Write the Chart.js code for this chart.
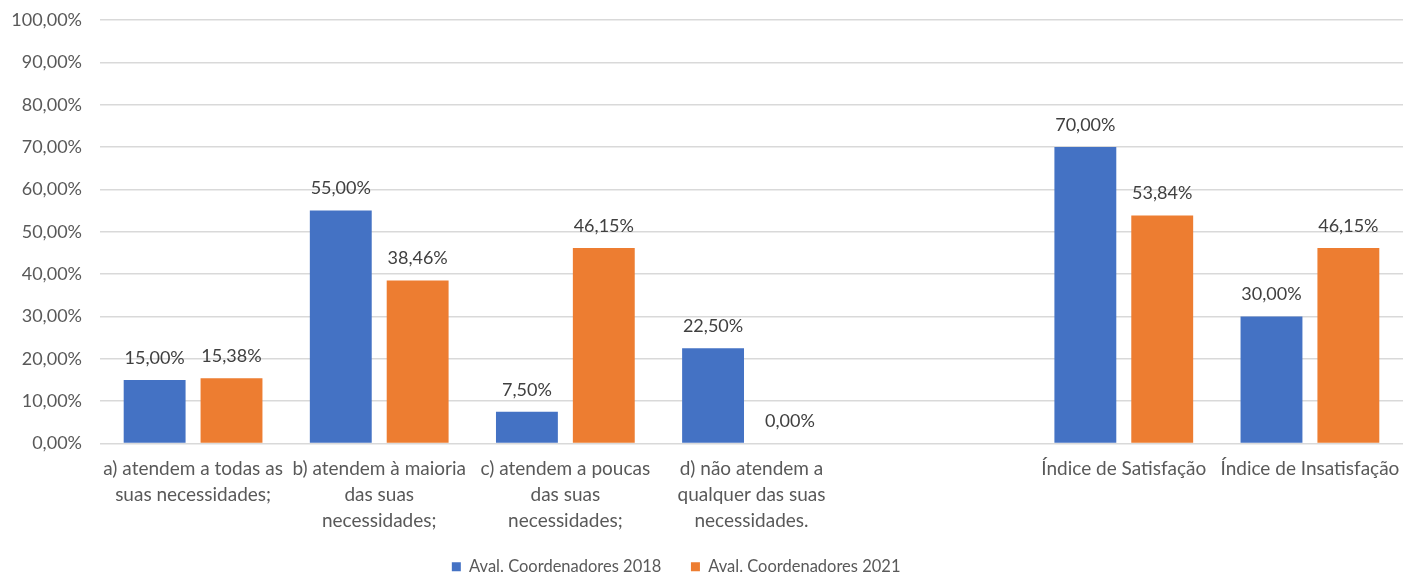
<!DOCTYPE html>
<html>
<head>
<meta charset="utf-8">
<script src="https://cdn.jsdelivr.net/npm/chart.js@4"></script>
<style>
  html, body { margin: 0; padding: 0; background: #fff; }
  #wrap { width: 1403px; height: 575px; position: relative; }
</style>
</head>
<body>
<div id="wrap"><canvas id="coordChart"></canvas></div>
<script>
// categories (empty slot between d) and the indices)
const categories = [
    ["a) atendem a todas as", "suas necessidades;"],
    ["b) atendem à maioria", "das suas", "necessidades;"],
    ["c) atendem a poucas", "das suas", "necessidades;"],
    ["d) não atendem a", "qualquer das suas", "necessidades."],
    "",
    "Índice de Satisfação",
    "Índice de Insatisfação"
];
const values2018 = [15.00, 55.00, 7.50, 22.50, null, 70.00, 30.00];
const values2021 = [15.38, 38.46, 46.15, 0.00, null, 53.84, 46.15];
const seriesNames = ["Aval. Coordenadores 2018", "Aval. Coordenadores 2021"];

const FONT = "Lato, 'Open Sans', sans-serif";

function pct(v) {
    return v.toFixed(2).replace('.', ',') + '%';
}

// draws the value above each bar
const valueLabels = {
    id: 'valueLabels',
    afterDatasetsDraw(chart) {
        const ctx = chart.ctx;
        ctx.save();
        ctx.font = "18px " + FONT;
        ctx.fillStyle = "#404040";
        ctx.textAlign = "center";
        ctx.textBaseline = "middle";
        chart.data.datasets.forEach((ds, i) => {
            const meta = chart.getDatasetMeta(i);
            meta.data.forEach((bar, j) => {
                const v = ds.data[j];
                if (v === null || v === undefined) return;
                ctx.fillText(pct(v), bar.x, bar.y - 22);
            });
        });
        ctx.restore();
    }
};

const ctx = document.getElementById("coordChart").getContext('2d');
new Chart(ctx, {
    type: "bar",
    data: {
        labels: categories,
        datasets: [
            {
                label: seriesNames[0],
                data: values2018,
                backgroundColor: "#4472c4",
                barPercentage: 0.805,
                categoryPercentage: 0.826,
            },
            {
                label: seriesNames[1],
                data: values2021,
                backgroundColor: "#ed7d31",
                barPercentage: 0.805,
                categoryPercentage: 0.826,
            },
        ],
    },
    options: {
        responsive: true,
        maintainAspectRatio: false,
        animation: false,
        layout: {
            padding: { top: 20, right: 0, left: 0, bottom: -10 },
        },
        plugins: {
            legend: {
                position: "bottom",
                labels: {
                    boxWidth: 9,
                    boxHeight: 9,
                    padding: 0,
                    color: "#595959",
                    font: { size: 16.5, family: FONT },
                    generateLabels(chart) {
                        const items = Chart.defaults.plugins.legend.labels.generateLabels(chart);
                        // spacing between items, and a small shift to the left
                        items[0].text += " ".repeat(7);
                        items[1].text += " ".repeat(12);
                        return items;
                    },
                },
            },
            tooltip: { enabled: false },
        },
        scales: {
            x: {
                afterFit(scale) {
                    scale.height = 115;
                    scale.paddingLeft = 0;
                    scale.paddingRight = 0;
                },
                grid: { display: false },
                border: { display: false },
                ticks: {
                    color: "#595959",
                    font: { size: 19, family: FONT, lineHeight: 1.35 },
                    maxRotation: 0,
                    autoSkip: false,
                    padding: 5,
                },
            },
            y: {
                min: 0,
                max: 100,
                afterFit(scale) {
                    scale.width = 100;
                    scale.paddingTop = 0;
                },
                grid: { color: "#d9d9d9", lineWidth: 1.5, drawTicks: false },
                border: { display: false },
                ticks: {
                    stepSize: 10,
                    color: "#595959",
                    font: { size: 18, family: FONT },
                    padding: 18,
                    callback: (v) => pct(v),
                },
            },
        },
    },
    plugins: [valueLabels],
});
</script>
</body>
</html>
